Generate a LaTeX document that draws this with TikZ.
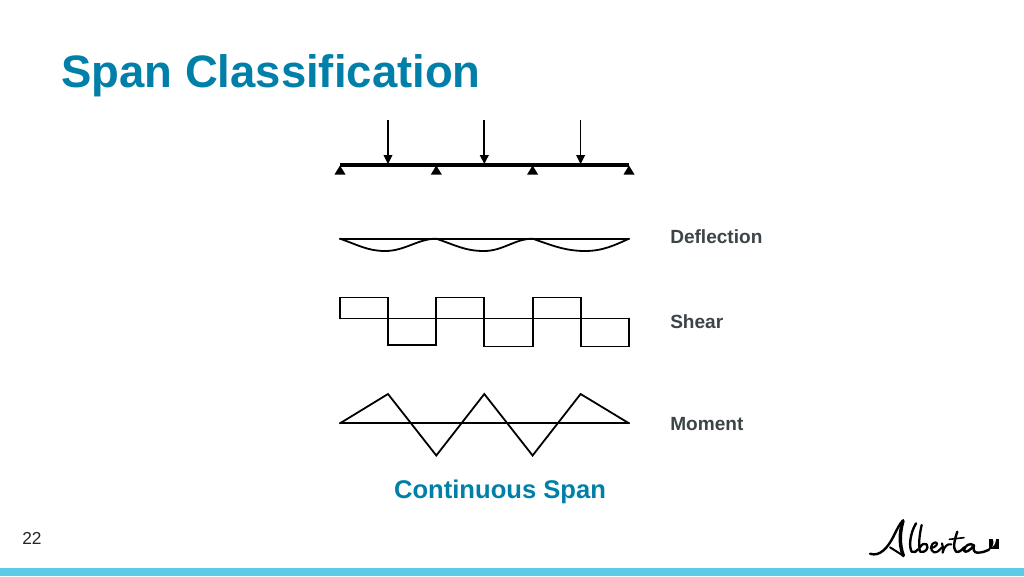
\documentclass[tikz,border=0pt]{standalone}
\usepackage{fontspec}
\setmainfont{Liberation Sans}
\definecolor{titleblue}{HTML}{0080A8}
\definecolor{barblue}{HTML}{5BCBE8}
\definecolor{labelgrey}{HTML}{3C4448}
\tikzset{
  titletext/.style={anchor=base west,inner sep=0pt,text=titleblue,font=\fontsize{34.1pt}{36pt}\selectfont\bfseries},
  sublabel/.style={anchor=base west,inner sep=0pt,text=labelgrey,font=\fontsize{14.3pt}{16pt}\selectfont\bfseries},
  captiontext/.style={anchor=base,inner sep=0pt,text=titleblue,font=\fontsize{19.2pt}{22pt}\selectfont\bfseries},
  pagenum/.style={anchor=base west,inner sep=0pt,text=black!85,font=\fontsize{13pt}{14pt}\selectfont},
  curve/.style={draw=black,line width=1.35pt,line join=miter,line cap=round},
  beam/.style={draw=black,line width=2.7pt},
  load/.style={draw=black,line width=1.25pt},
  tip/.style={fill=black,draw=none},
  inkstroke/.style={draw=black,line cap=round,line join=round},
}
\begin{document}
\begin{tikzpicture}[x=0.75pt,y=-0.75pt]
\useasboundingbox (0,0) rectangle (1024,576);
\fill[white] (0,0) rectangle (1024,576);
\fill[barblue] (0,568) rectangle (1024,576);
\node[titletext] (title) at (61,87) {Span Classification};
% beam
\draw[beam] (340,164.7) -- (629,164.7);
\foreach \x in {340,436.3,532.6,629}{
  \fill[tip] (\x-5.5,174.5) -- (\x,165.5) -- (\x+5.5,174.5) -- cycle;
}
\foreach \x in {388,484.3,580.6}{
  \draw[load] (\x,120) -- (\x,156);
  \fill[tip] (\x-4.6,155) -- (\x+4.6,155) -- (\x,164) -- cycle;
}
% deflection
\draw[curve] (340,238.7) -- (629,238.7);
\draw[curve] (340,238.7) .. controls (358,245) and (368,251) .. (385,251)
  .. controls (405,251) and (418,238.7) .. (436.3,238.7)
  .. controls (455,245) and (465,251) .. (484,251)
  .. controls (503,251) and (515,238.7) .. (532.6,238.7)
  .. controls (551,245) and (565,251) .. (585,251)
  .. controls (603,251) and (615,245) .. (629,238.7);
% shear
\draw[curve] (340,318.5) -- (629,318.5);
\draw[curve] (340,318.5) -- (340,297.5) -- (388,297.5) -- (388,345) -- (436.3,345) -- (436.3,297.5)
  -- (484.3,297.5) -- (484.3,346.5) -- (532.6,346.5) -- (532.6,297.5) -- (580.6,297.5) -- (580.6,346.5)
  -- (629,346.5) -- (629,318.5);
% moment
\draw[curve] (340,423.3) -- (629,423.3);
\draw[curve] (340,423.3) -- (388,394) -- (436.3,455.5) -- (484.3,394) -- (532.6,455.5) -- (580.6,394) -- (629,423.3);
\node[sublabel] (defl) at (670,243) {Deflection};
\node[sublabel] (shear) at (670,328) {Shear};
\node[sublabel] (moment) at (670,430) {Moment};
\node[captiontext] (caption) at (500,498.5) {Continuous Span};
\node[pagenum] (page) at (22,544) {22};
% Alberta logo
\begin{scope}[shift={(860,510)},x=0.25pt,y=-0.25pt]
\draw[inkstroke,line width=1.8pt] (30,131) .. controls (60,142) and (85,110) .. (100,80) .. controls (110,60) and (120,38) .. (129,32);
\draw[inkstroke,line width=2.6pt] (129,32) .. controls (118,70) and (118,105) .. (130,137);
\draw[inkstroke,line width=1.5pt] (90,112) .. controls (100,118) and (115,128) .. (130,137);
\draw[inkstroke,line width=1.8pt] (168,40) .. controls (150,70) and (146,110) .. (155,125) .. controls (162,130) and (170,124) .. (174,118);
\draw[inkstroke,line width=1.7pt] (185,45) .. controls (178,75) and (175,105) .. (180,125) .. controls (195,130) and (208,115) .. (200,103) .. controls (194,98) and (186,102) .. (180,112);
\draw[inkstroke,line width=1.6pt] (212,115) .. controls (228,112) and (238,98) .. (226,97) .. controls (212,98) and (208,122) .. (222,127) .. controls (232,128) and (240,120) .. (246,112);
\draw[inkstroke,line width=1.6pt] (246,100) .. controls (250,110) and (250,118) .. (248,128) .. controls (252,110) and (262,100) .. (274,103);
\draw[inkstroke,line width=1.8pt] (292,65) .. controls (283,90) and (278,115) .. (288,125) .. controls (295,128) and (305,122) .. (312,112);
\draw[inkstroke,line width=1.2pt] (268,88) -- (312,83);
\draw[inkstroke,line width=1.8pt] (342,106) .. controls (330,96) and (312,108) .. (312,122) .. controls (316,130) and (330,122) .. (342,106) .. controls (338,118) and (342,128) .. (352,128) .. controls (366,128) and (378,124) .. (388,118);
\fill[black] (386,86) rectangle (418,118);
\fill[white] (398,86) -- (408,86) .. controls (407,98) and (404,106) .. (397,112) .. controls (401,104) and (402,96) .. (398,86) -- cycle;
\end{scope}
\end{tikzpicture}
\end{document}
